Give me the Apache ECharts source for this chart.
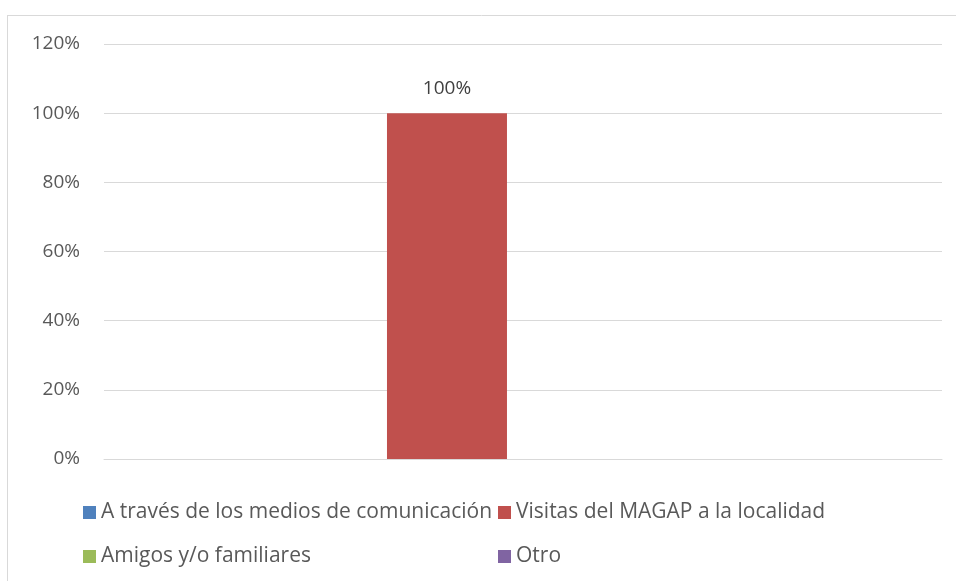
<!DOCTYPE html>
<html><head><meta charset="utf-8">
<script src="https://cdn.jsdelivr.net/npm/echarts@6/dist/echarts.min.js"></script>
<style>html,body{margin:0;padding:0;background:#fff}#c{width:956px;height:581px}</style>
</head><body><div id="c"></div>
<script>
const categories = [''];
const seriesNames = ['A través de los medios de comunicación','Visitas del MAGAP a la localidad','Amigos y/o familiares','Otro'];
const seriesValues = [[0],[1],[0],[0]];
const seriesColors = ['#4F81BD','#C0504D','#9BBB59','#8064A2'];
const yTicks = [0,0.2,0.4,0.6,0.8,1.0,1.2];

const FONT = '"Open Sans", sans-serif';
const chart = echarts.init(document.getElementById('c'));
const legendPos = [[78,497],[493,497],[78,541],[493,541]];
chart.setOption({
  animation:false,
  graphic:[
    {type:'line',shape:{x1:7,y1:15.5,x2:956,y2:15.5},style:{stroke:'#d9d9d9',lineWidth:1}},
    {type:'line',shape:{x1:7.5,y1:15,x2:7.5,y2:581},style:{stroke:'#d9d9d9',lineWidth:1}}
  ],
  grid:{left:104,right:14,top:44,bottom:122},
  legend: seriesNames.map((n,i)=>({
    data:[n], left:legendPos[i][0], top:legendPos[i][1],
    itemWidth:13,itemHeight:13,itemGap:5,icon:'rect',
    textStyle:{color:'#595959',fontSize:21,fontFamily:FONT,padding:[0,0,0,0]}
  })),
  xAxis:{type:'category',data:categories,axisLine:{show:true,lineStyle:{color:'#d9d9d9',width:1}},axisTick:{show:false},axisLabel:{show:false}},
  yAxis:{type:'value',min:yTicks[0],max:yTicks[yTicks.length-1],interval:0.2,
    axisLine:{show:false},axisTick:{show:false},
    splitLine:{lineStyle:{color:'#d9d9d9',width:1}},
    axisLabel:{margin:24,color:'#595959',fontSize:19,fontFamily:FONT,
      formatter:v=>Math.round(v*100)+'%'}},
  series: seriesNames.map((n,i)=>({
    name:n,type:'bar',data:seriesValues[i],barWidth:120,barGap:'26.7%',
    itemStyle:{color:seriesColors[i]},
    label:{show:seriesValues[i][0]>0,position:'top',distance:15,color:'#404040',fontSize:19,fontFamily:FONT,
      formatter:p=>Math.round(p.value*100)+'%'}
  }))
});
</script></body></html>
